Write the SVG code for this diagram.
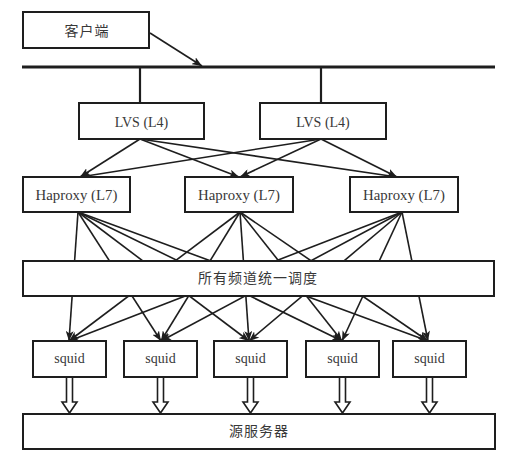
<svg xmlns="http://www.w3.org/2000/svg" width="515" height="461" viewBox="0 0 515 461">
<style>
.box{fill:#fff;stroke:#1e1e1e;stroke-width:2}
.t{font-family:"Liberation Serif","Noto Sans CJK SC",serif;font-size:14px;fill:#383838;text-anchor:middle;dominant-baseline:central}
.hp{font-size:14.8px}
.cn{letter-spacing:1px}
.c{stroke:#1e1e1e;stroke-width:1.6;fill:none;marker-end:url(#ah)}
.bus{stroke:#1e1e1e;stroke-width:3;fill:none}
.v{stroke:#1e1e1e;stroke-width:2.2;fill:none}
.ha{fill:#fff;stroke:#1e1e1e;stroke-width:1.6}
</style>
<defs>
<marker id="ah" viewBox="0 0 10 8" refX="10" refY="4" markerWidth="10" markerHeight="8" markerUnits="userSpaceOnUse" orient="auto">
<path d="M0,0 L10,4 L0,8 L2.5,4 z" fill="#1e1e1e"/>
</marker>
</defs>
<rect width="515" height="461" fill="#fff"/>
<g id="connectors">
<line class="c" x1="150" y1="33" x2="202" y2="66"/>
<line class="v" x1="140" y1="67" x2="140" y2="103"/>
<line class="v" x1="321" y1="67" x2="321" y2="103"/>
<line class="c" x1="140" y1="139" x2="80" y2="177"/>
<line class="c" x1="140" y1="139" x2="239" y2="177"/>
<line class="c" x1="140" y1="139" x2="397" y2="177"/>
<line class="c" x1="321" y1="139" x2="80" y2="177"/>
<line class="c" x1="321" y1="139" x2="240" y2="177"/>
<line class="c" x1="321" y1="139" x2="397" y2="177"/>
<line class="c" x1="78" y1="212" x2="69" y2="341"/>
<line class="c" x1="78" y1="212" x2="161" y2="341"/>
<line class="c" x1="78" y1="212" x2="249" y2="341"/>
<line class="c" x1="78" y1="212" x2="342" y2="341"/>
<line class="c" x1="78" y1="212" x2="428" y2="341"/>
<line class="c" x1="240" y1="212" x2="69" y2="341"/>
<line class="c" x1="240" y1="212" x2="161" y2="341"/>
<line class="c" x1="240" y1="212" x2="249" y2="341"/>
<line class="c" x1="240" y1="212" x2="342" y2="341"/>
<line class="c" x1="240" y1="212" x2="428" y2="341"/>
<line class="c" x1="402" y1="212" x2="69" y2="341"/>
<line class="c" x1="402" y1="212" x2="161" y2="341"/>
<line class="c" x1="402" y1="212" x2="249" y2="341"/>
<line class="c" x1="402" y1="212" x2="342" y2="341"/>
<line class="c" x1="402" y1="212" x2="428" y2="341"/>
<path class="ha" d="M66.5,377 V402 H62 L69.5,413 L77,402 H72.5 V377"/>
<path class="ha" d="M157.5,377 V402 H153 L160.5,413 L168,402 H163.5 V377"/>
<path class="ha" d="M247.5,377 V402 H243 L250.5,413 L258,402 H253.5 V377"/>
<path class="ha" d="M339.5,377 V402 H335 L342.5,413 L350,402 H345.5 V377"/>
<path class="ha" d="M426.5,377 V402 H422 L429.5,413 L437,402 H432.5 V377"/>
</g>
<g id="bus"><line class="bus" x1="22" y1="67" x2="495" y2="67"/></g>
<g id="client"><rect class="box" x="23" y="12" width="126" height="36"/><text class="t cn" x="87" y="31">客户端</text></g>
<g id="lvs1"><rect class="box" x="79" y="103" width="125" height="36"/><text class="t" x="141.5" y="122">LVS (L4)</text></g>
<g id="lvs2"><rect class="box" x="260" y="103" width="126" height="36"/><text class="t" x="323" y="122">LVS (L4)</text></g>
<g id="haproxy1"><rect class="box" x="23" y="177" width="107" height="35"/><text class="t hp" x="76.5" y="195">Haproxy (L7)</text></g>
<g id="haproxy2"><rect class="box" x="185" y="177" width="108" height="35"/><text class="t hp" x="239" y="195">Haproxy (L7)</text></g>
<g id="haproxy3"><rect class="box" x="350" y="177" width="108" height="35"/><text class="t hp" x="404" y="195">Haproxy (L7)</text></g>
<g id="scheduler"><rect class="box" x="23" y="261" width="471" height="35"/><text class="t cn" x="258" y="278">所有频道统一调度</text></g>
<g id="squid1"><rect class="box" x="33" y="341" width="73" height="36"/><text class="t" x="69.5" y="358">squid</text></g>
<g id="squid2"><rect class="box" x="124" y="341" width="73" height="36"/><text class="t" x="160.5" y="358">squid</text></g>
<g id="squid3"><rect class="box" x="214" y="341" width="73" height="36"/><text class="t" x="250.5" y="358">squid</text></g>
<g id="squid4"><rect class="box" x="306" y="341" width="73" height="36"/><text class="t" x="342.5" y="358">squid</text></g>
<g id="squid5"><rect class="box" x="393" y="341" width="73" height="36"/><text class="t" x="429.5" y="358">squid</text></g>
<g id="origin"><rect class="box" x="23" y="414" width="472" height="35"/><text class="t cn" x="259" y="431">源服务器</text></g>
</svg>
